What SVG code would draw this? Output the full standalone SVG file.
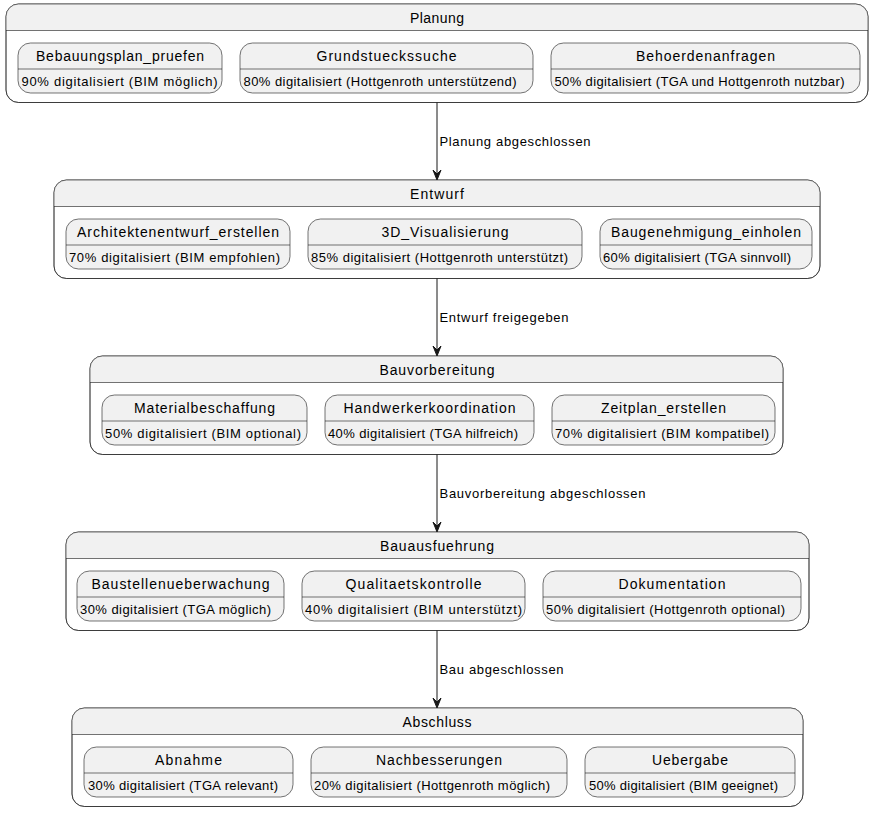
<svg xmlns="http://www.w3.org/2000/svg" width="877" height="813" viewBox="0 0 877 813">
<style>
.cbox{fill:#FFFFFF;stroke:#181818;stroke-width:0.6}
.chead{fill:#F1F1F1;stroke:none}
.sep{stroke:#181818;stroke-width:0.6}
.node{fill:#F1F1F1;stroke:#181818;stroke-width:0.6}
.ct,.nt{font-family:"Liberation Sans",Arial,sans-serif;font-size:14px;text-anchor:middle;fill:#000}
.nb,.lb{font-family:"Liberation Sans",Arial,sans-serif;font-size:13px;fill:#000}
.edge{stroke:#181818;stroke-width:1;fill:none}
.head{fill:#181818;stroke:#181818;stroke-width:1}
</style>

<g id="Planung">
<rect class="cbox" x="6" y="4" width="862" height="98.5" rx="12.5"/>
<path class="chead" d="M6,30.5 V16.5 A12.5,12.5 0 0 1 18.5,4 H855.5 A12.5,12.5 0 0 1 868,16.5 V30.5 Z"/>
<rect x="6" y="4" width="862" height="98.5" rx="12.5" fill="none" stroke="#181818" stroke-width="0.6"/>
<line class="sep" x1="6" y1="30.5" x2="868" y2="30.5"/>
<text class="ct" x="437" y="23" textLength="54" lengthAdjust="spacing">Planung</text>
<g id="Bebauungsplan_pruefen">
<rect class="node" x="18" y="43" width="204" height="50" rx="12.5"/>
<line class="sep" x1="18" y1="69" x2="222" y2="69"/>
<text class="nt" x="120" y="60.5" textLength="168" lengthAdjust="spacing">Bebauungsplan_pruefen</text>
<text class="nb" x="21.5" y="85.5" textLength="196" lengthAdjust="spacing">90% digitalisiert (BIM möglich)</text>
</g>
<g id="Grundstueckssuche">
<rect class="node" x="240" y="43" width="293" height="50" rx="12.5"/>
<line class="sep" x1="240" y1="69" x2="533" y2="69"/>
<text class="nt" x="386.5" y="60.5" textLength="140" lengthAdjust="spacing">Grundstueckssuche</text>
<text class="nb" x="243.5" y="85.5" textLength="273" lengthAdjust="spacing">80% digitalisiert (Hottgenroth unterstützend)</text>
</g>
<g id="Behoerdenanfragen">
<rect class="node" x="551" y="43" width="309" height="50" rx="12.5"/>
<line class="sep" x1="551" y1="69" x2="860" y2="69"/>
<text class="nt" x="705.5" y="60.5" textLength="139" lengthAdjust="spacing">Behoerdenanfragen</text>
<text class="nb" x="554.5" y="85.5" textLength="290" lengthAdjust="spacing">50% digitalisiert (TGA und Hottgenroth nutzbar)</text>
</g>
</g>

<g id="Entwurf">
<rect class="cbox" x="54" y="180" width="766" height="98.5" rx="12.5"/>
<path class="chead" d="M54,206.5 V192.5 A12.5,12.5 0 0 1 66.5,180 H807.5 A12.5,12.5 0 0 1 820,192.5 V206.5 Z"/>
<rect x="54" y="180" width="766" height="98.5" rx="12.5" fill="none" stroke="#181818" stroke-width="0.6"/>
<line class="sep" x1="54" y1="206.5" x2="820" y2="206.5"/>
<text class="ct" x="437" y="199" textLength="54" lengthAdjust="spacing">Entwurf</text>
<g id="Architektenentwurf_erstellen">
<rect class="node" x="66" y="219" width="224" height="50" rx="12.5"/>
<line class="sep" x1="66" y1="245" x2="290" y2="245"/>
<text class="nt" x="178" y="236.5" textLength="202" lengthAdjust="spacing">Architektenentwurf_erstellen</text>
<text class="nb" x="69" y="261.5" textLength="211" lengthAdjust="spacing">70% digitalisiert (BIM empfohlen)</text>
</g>
<g id="3D_Visualisierung">
<rect class="node" x="308" y="219" width="274" height="50" rx="12.5"/>
<line class="sep" x1="308" y1="245" x2="582" y2="245"/>
<text class="nt" x="445" y="236.5" textLength="127" lengthAdjust="spacing">3D_Visualisierung</text>
<text class="nb" x="311" y="261.5" textLength="257" lengthAdjust="spacing">85% digitalisiert (Hottgenroth unterstützt)</text>
</g>
<g id="Baugenehmigung_einholen">
<rect class="node" x="600" y="219" width="212" height="50" rx="12.5"/>
<line class="sep" x1="600" y1="245" x2="812" y2="245"/>
<text class="nt" x="706" y="236.5" textLength="190" lengthAdjust="spacing">Baugenehmigung_einholen</text>
<text class="nb" x="603" y="261.5" textLength="188" lengthAdjust="spacing">60% digitalisiert (TGA sinnvoll)</text>
</g>
</g>

<g id="Bauvorbereitung">
<rect class="cbox" x="90" y="356" width="693" height="98.5" rx="12.5"/>
<path class="chead" d="M90,382.5 V368.5 A12.5,12.5 0 0 1 102.5,356 H770.5 A12.5,12.5 0 0 1 783,368.5 V382.5 Z"/>
<rect x="90" y="356" width="693" height="98.5" rx="12.5" fill="none" stroke="#181818" stroke-width="0.6"/>
<line class="sep" x1="90" y1="382.5" x2="783" y2="382.5"/>
<text class="ct" x="437" y="375" textLength="115" lengthAdjust="spacing">Bauvorbereitung</text>
<g id="Materialbeschaffung">
<rect class="node" x="102" y="395" width="205" height="50" rx="12.5"/>
<line class="sep" x1="102" y1="421" x2="307" y2="421"/>
<text class="nt" x="204.5" y="412.5" textLength="141" lengthAdjust="spacing">Materialbeschaffung</text>
<text class="nb" x="105" y="437.5" textLength="196" lengthAdjust="spacing">50% digitalisiert (BIM optional)</text>
</g>
<g id="Handwerkerkoordination">
<rect class="node" x="325" y="395" width="209" height="50" rx="12.5"/>
<line class="sep" x1="325" y1="421" x2="534" y2="421"/>
<text class="nt" x="429.5" y="412.5" textLength="172" lengthAdjust="spacing">Handwerkerkoordination</text>
<text class="nb" x="328" y="437.5" textLength="190" lengthAdjust="spacing">40% digitalisiert (TGA hilfreich)</text>
</g>
<g id="Zeitplan_erstellen">
<rect class="node" x="552" y="395" width="223" height="50" rx="12.5"/>
<line class="sep" x1="552" y1="421" x2="775" y2="421"/>
<text class="nt" x="663.5" y="412.5" textLength="125" lengthAdjust="spacing">Zeitplan_erstellen</text>
<text class="nb" x="555" y="437.5" textLength="214" lengthAdjust="spacing">70% digitalisiert (BIM kompatibel)</text>
</g>
</g>

<g id="Bauausfuehrung">
<rect class="cbox" x="66" y="532" width="743" height="98.5" rx="12.5"/>
<path class="chead" d="M66,558.5 V544.5 A12.5,12.5 0 0 1 78.5,532 H796.5 A12.5,12.5 0 0 1 809,544.5 V558.5 Z"/>
<rect x="66" y="532" width="743" height="98.5" rx="12.5" fill="none" stroke="#181818" stroke-width="0.6"/>
<line class="sep" x1="66" y1="558.5" x2="809" y2="558.5"/>
<text class="ct" x="437" y="551" textLength="114" lengthAdjust="spacing">Bauausfuehrung</text>
<g id="Baustellenueberwachung">
<rect class="node" x="77" y="571" width="207" height="50" rx="12.5"/>
<line class="sep" x1="77" y1="597" x2="284" y2="597"/>
<text class="nt" x="180.5" y="588.5" textLength="178" lengthAdjust="spacing">Baustellenueberwachung</text>
<text class="nb" x="80" y="613.5" textLength="191" lengthAdjust="spacing">30% digitalisiert (TGA möglich)</text>
</g>
<g id="Qualitaetskontrolle">
<rect class="node" x="302" y="571" width="223" height="50" rx="12.5"/>
<line class="sep" x1="302" y1="597" x2="525" y2="597"/>
<text class="nt" x="413.5" y="588.5" textLength="136" lengthAdjust="spacing">Qualitaetskontrolle</text>
<text class="nb" x="305" y="613.5" textLength="217" lengthAdjust="spacing">40% digitalisiert (BIM unterstützt)</text>
</g>
<g id="Dokumentation">
<rect class="node" x="543" y="571" width="258" height="50" rx="12.5"/>
<line class="sep" x1="543" y1="597" x2="801" y2="597"/>
<text class="nt" x="672" y="588.5" textLength="107" lengthAdjust="spacing">Dokumentation</text>
<text class="nb" x="546" y="613.5" textLength="239" lengthAdjust="spacing">50% digitalisiert (Hottgenroth optional)</text>
</g>
</g>

<g id="Abschluss">
<rect class="cbox" x="72" y="708" width="731" height="98.5" rx="12.5"/>
<path class="chead" d="M72,734.5 V720.5 A12.5,12.5 0 0 1 84.5,708 H790.5 A12.5,12.5 0 0 1 803,720.5 V734.5 Z"/>
<rect x="72" y="708" width="731" height="98.5" rx="12.5" fill="none" stroke="#181818" stroke-width="0.6"/>
<line class="sep" x1="72" y1="734.5" x2="803" y2="734.5"/>
<text class="ct" x="437" y="727" textLength="69" lengthAdjust="spacing">Abschluss</text>
<g id="Abnahme">
<rect class="node" x="84" y="747" width="209" height="50" rx="12.5"/>
<line class="sep" x1="84" y1="773" x2="293" y2="773"/>
<text class="nt" x="188.5" y="764.5" textLength="67" lengthAdjust="spacing">Abnahme</text>
<text class="nb" x="88" y="789.5" textLength="190" lengthAdjust="spacing">30% digitalisiert (TGA relevant)</text>
</g>
<g id="Nachbesserungen">
<rect class="node" x="311" y="747" width="256" height="50" rx="12.5"/>
<line class="sep" x1="311" y1="773" x2="567" y2="773"/>
<text class="nt" x="439" y="764.5" textLength="126" lengthAdjust="spacing">Nachbesserungen</text>
<text class="nb" x="314" y="789.5" textLength="236" lengthAdjust="spacing">20% digitalisiert (Hottgenroth möglich)</text>
</g>
<g id="Uebergabe">
<rect class="node" x="585" y="747" width="210" height="50" rx="12.5"/>
<line class="sep" x1="585" y1="773" x2="795" y2="773"/>
<text class="nt" x="690" y="764.5" textLength="76" lengthAdjust="spacing">Uebergabe</text>
<text class="nb" x="589" y="789.5" textLength="189" lengthAdjust="spacing">50% digitalisiert (BIM geeignet)</text>
</g>
</g>

<g id="connectors">
<line class="edge" x1="437" y1="102.5" x2="437" y2="176"/>
<polygon class="head" points="433,170 437,180 441,170 437,174"/>
<text class="lb" x="439.5" y="146" textLength="151" lengthAdjust="spacing">Planung abgeschlossen</text>
<line class="edge" x1="437" y1="278.5" x2="437" y2="352"/>
<polygon class="head" points="433,346 437,356 441,346 437,350"/>
<text class="lb" x="439.5" y="322" textLength="129" lengthAdjust="spacing">Entwurf freigegeben</text>
<line class="edge" x1="437" y1="454.5" x2="437" y2="528"/>
<polygon class="head" points="433,522 437,532 441,522 437,526"/>
<text class="lb" x="439.5" y="498" textLength="206" lengthAdjust="spacing">Bauvorbereitung abgeschlossen</text>
<line class="edge" x1="437" y1="630.5" x2="437" y2="704"/>
<polygon class="head" points="433,698 437,708 441,698 437,702"/>
<text class="lb" x="439.5" y="674" textLength="124" lengthAdjust="spacing">Bau abgeschlossen</text>
</g>
</svg>
